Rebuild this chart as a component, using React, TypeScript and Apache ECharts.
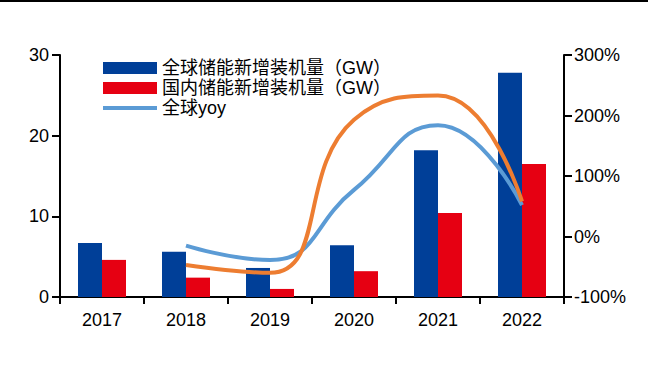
import React, { useEffect, useRef } from "react";
import * as echarts from "echarts";

const years = ["2017", "2018", "2019", "2020", "2021", "2022"];
const globalGW = [6.7, 5.6, 3.6, 6.4, 18.2, 27.8];
const domesticGW = [4.6, 2.4, 1.0, 3.2, 10.4, 16.5];
const globalYoy = [null, -0.15, -0.39, 0.77, 1.84, 0.52];
const domesticYoy = [null, -0.47, -0.6, 1.93, 2.33, 0.58];
const leftTicks = [0, 10, 20, 30];
const rightTicks = [-1, 0, 1, 2, 3];

const FONT = "'Liberation Sans', Arial, 'Noto Sans CJK SC', sans-serif";

export default function App() {
  const ref = useRef<HTMLDivElement>(null);
  useEffect(() => {
    document.body.style.margin = "0";
    if (!ref.current) return;
    const chart = echarts.init(ref.current, null, { renderer: "svg" });
    chart.setOption({
      animation: false,
      backgroundColor: "#ffffff",
      textStyle: { fontFamily: FONT },
      graphic: [
        {
          type: "line",
          shape: { x1: 0, y1: 1, x2: 648, y2: 1 },
          style: { stroke: "#000", lineWidth: 2 },
        },
      ],
      legend: {
        orient: "vertical",
        left: 103,
        top: 58,
        padding: 0,
        itemWidth: 54,
        itemHeight: 12,
        itemGap: 0,
        symbolKeepAspect: true,
        data: [
          { name: "全球储能新增装机量（GW）", icon: "rect" },
          { name: "国内储能新增装机量（GW）", icon: "rect" },
          { name: "全球yoy", icon: "path://M0,0 L54,0 L54,4 L0,4 Z" },
        ],
        textStyle: { fontSize: 18, lineHeight: 20, color: "#000", fontFamily: FONT },
      },
      grid: { left: 60, right: 84, top: 55, bottom: 75, containLabel: false },
      xAxis: {
        type: "category",
        data: years,
        axisLine: { lineStyle: { color: "#000", width: 2 } },
        axisTick: { show: true, length: 7, lineStyle: { color: "#000", width: 2 } },
        axisLabel: { color: "#000", fontSize: 18, margin: 14, fontFamily: FONT },
      },
      yAxis: [
        {
          type: "value",
          position: "left",
          min: leftTicks[0],
          max: leftTicks[leftTicks.length - 1],
          interval: 10,
          splitLine: { show: false },
          axisLine: { show: true, lineStyle: { color: "#000", width: 2 } },
          axisTick: { show: true, length: 8, lineStyle: { color: "#000", width: 2 } },
          axisLabel: { color: "#000", fontSize: 18, margin: 11, fontFamily: FONT },
        },
        {
          type: "value",
          position: "right",
          min: rightTicks[0],
          max: rightTicks[rightTicks.length - 1],
          interval: 1,
          splitLine: { show: false },
          axisLine: { show: true, lineStyle: { color: "#000", width: 2 } },
          axisTick: { show: true, length: 8, lineStyle: { color: "#000", width: 2 } },
          axisLabel: {
            color: "#000",
            fontSize: 18,
            margin: 10,
            fontFamily: FONT,
            formatter: (v: number) => `${Math.round(v * 100)}%`,
          },
        },
      ],
      series: [
        {
          name: "全球储能新增装机量（GW）",
          type: "bar",
          data: globalGW,
          barWidth: 24,
          barGap: "0%",
          itemStyle: { color: "#003f98" },
        },
        {
          name: "国内储能新增装机量（GW）",
          type: "bar",
          data: domesticGW,
          barWidth: 24,
          barGap: "0%",
          itemStyle: { color: "#e60012" },
        },
        {
          name: "全球yoy",
          type: "line",
          yAxisIndex: 1,
          data: globalYoy,
          smooth: 0.5,
          symbol: "none",
          lineStyle: { color: "#5b9bd5", width: 4 },
          itemStyle: { color: "#5b9bd5" },
        },
        {
          name: "国内yoy",
          type: "line",
          yAxisIndex: 1,
          data: domesticYoy,
          smooth: 0.5,
          symbol: "none",
          lineStyle: { color: "#ed7d31", width: 4 },
          itemStyle: { color: "#ed7d31" },
        },
      ],
    });
    return () => chart.dispose();
  }, []);
  return <div ref={ref} style={{ width: 648, height: 372 }} />;
}
